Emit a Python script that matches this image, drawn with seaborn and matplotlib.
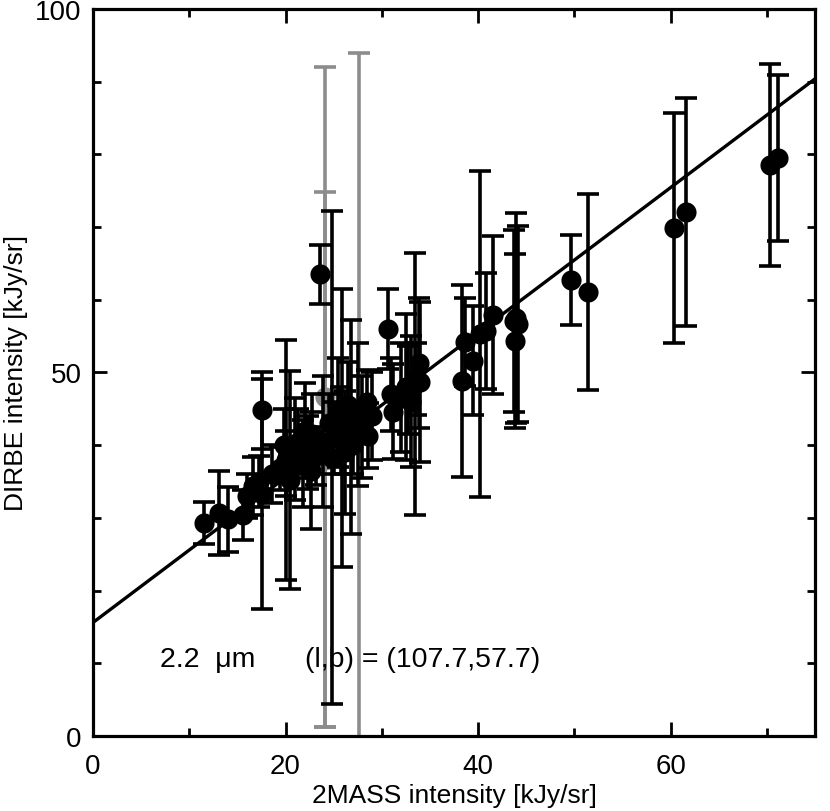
import numpy as np
import pandas as pd
import seaborn as sns
import matplotlib.pyplot as plt
from matplotlib.ticker import MultipleLocator

# 2MASS vs DIRBE intensity, 2.2 um, (l,b) = (107.7,57.7)
x_mass = [11.5, 13.1, 14.0, 15.6, 16.0, 16.6, 17.6, 17.6, 17.2, 18.6,
          19.4, 20.0, 20.5, 20.1, 21.3, 21.8, 22.3, 22.8, 23.2, 23.6,
          24.8, 25.0, 25.8, 25.9, 26.8, 27.5, 28.5, 28.6, 27.0, 26.5,
          24.5, 22.0, 19.8, 30.6, 31.0, 31.2, 32.0, 32.5, 33.0, 33.5,
          33.9, 34.0, 33.6, 32.7, 38.3, 38.6, 39.5, 40.2, 40.8, 41.5,
          43.7, 44.1, 43.8, 43.9, 49.6, 51.4, 60.3, 61.6, 70.3, 71.2,
          21.0, 22.6, 23.9, 25.4, 26.2, 27.9, 29.0]
y_dirbe = [29.3, 30.7, 29.8, 30.4, 33.0, 34.4, 44.8, 33.3, 35.0, 36.0,
           36.8, 37.5, 35.2, 38.0, 40.5, 37.5, 39.0, 41.5, 38.5, 63.5,
           38.3, 41.0, 42.0, 42.4, 42.5, 44.2, 45.9, 41.3, 40.0, 45.5,
           43.0, 42.0, 40.0, 56.0, 47.0, 44.6, 46.5, 48.0, 46.0, 48.4,
           51.3, 48.7, 49.1, 47.6, 48.8, 54.2, 51.6, 55.3, 55.7, 57.9,
           57.1, 56.7, 54.3, 57.5, 62.7, 61.1, 69.9, 72.1, 78.5, 79.5,
           39.5, 36.5, 40.5, 44.5, 39.0, 42.5, 44.0]
y_err = [2.9, 5.8, 4.5, 3.5, 3.0, 4.0, 5.3, 15.8, 3.5, 4.0,
         3.0, 4.5, 15.0, 16.5, 4.5, 6.0, 5.0, 5.5, 4.0, 4.1,
         33.9, 5.0, 6.0, 19.1, 14.7, 9.8, 4.5, 4.5, 4.0, 6.0,
         4.0, 6.5, 5.0, 5.5, 5.0, 6.5, 7.5, 10.0, 9.0, 18.0,
         9.0, 11.0, 5.0, 6.0, 13.2, 6.0, 7.5, 22.4, 8.0, 10.9,
         12.5, 13.5, 12.0, 14.5, 6.2, 13.5, 15.8, 15.7, 13.9, 11.4,
         7.0, 8.0, 9.0, 7.5, 8.5, 7.0, 6.0]

# points drawn in grey (huge uncertainty)
x_grey = [24.1, 24.1, 27.6]
y_grey = [46.6, 38.0, 43.0]
err_grey = [45.4, 36.8, 51.0]

# linear fit
fit_x = [0, 75]
fit_y = [15.6, 90.4]

df = pd.DataFrame({'x': x_mass, 'y': y_dirbe, 'err': y_err})
dfg = pd.DataFrame({'x': x_grey, 'y': y_grey, 'err': err_grey})

sns.set_style('ticks')
plt.rcParams['font.family'] = ['Liberation Sans', 'DejaVu Sans']
plt.rcParams['text.color'] = 'black'
plt.rcParams['axes.labelcolor'] = 'black'

fig = plt.figure(figsize=(8.3, 8.12), dpi=100)
ax = fig.add_axes([0.112, 0.0924, 0.870, 0.8953])

#grey ones first so black sits on top
ax.errorbar(dfg['x'], dfg['y'], yerr=dfg['err'], fmt='none', ecolor='#8c8c8c',
            elinewidth=2.6, capsize=8, capthick=2.6, zorder=1)
sns.scatterplot(data=dfg, x='x', y='y', color='#8c8c8c', s=210, linewidth=0,
                ax=ax, zorder=1.5, legend=False)

sns.lineplot(x=fit_x, y=fit_y, color='black', linewidth=2.4, ax=ax, zorder=2)

ax.errorbar(df['x'], df['y'], yerr=df['err'], fmt='none', ecolor='black',
            elinewidth=2.6, capsize=8, capthick=2.6, zorder=3)
sns.scatterplot(data=df, x='x', y='y', color='black', s=210, linewidth=0,
                ax=ax, zorder=4, legend=False)

ax.set_xlim(0, 75)
ax.set_ylim(0, 100)
ax.xaxis.set_major_locator(MultipleLocator(20))
ax.xaxis.set_minor_locator(MultipleLocator(10))
ax.yaxis.set_major_locator(MultipleLocator(50))
ax.yaxis.set_minor_locator(MultipleLocator(10))
ax.tick_params(which='both', direction='in', top=True, right=True,
               width=2, labelsize=20, colors='black', pad=8)
ax.tick_params(axis='x', which='both', pad=12)
ax.tick_params(which='major', length=10)
ax.tick_params(which='minor', length=6)
for sp in ax.spines.values():
    sp.set_linewidth(2.3)
    sp.set_color('black')

ax.set_xlabel('2MASS intensity [kJy/sr]', fontsize=19, labelpad=3)
ax.set_ylabel('DIRBE intensity [kJy/sr]', fontsize=19, labelpad=5)

ax.text(7.0, 10.6, '2.2  \u03bcm', fontsize=20.5, va='center', ha='left')
ax.text(22.0, 10.6, '(l,b) = (107.7,57.7)', fontsize=20.5, va='center', ha='left')

fig.savefig('out.png', dpi=100)
